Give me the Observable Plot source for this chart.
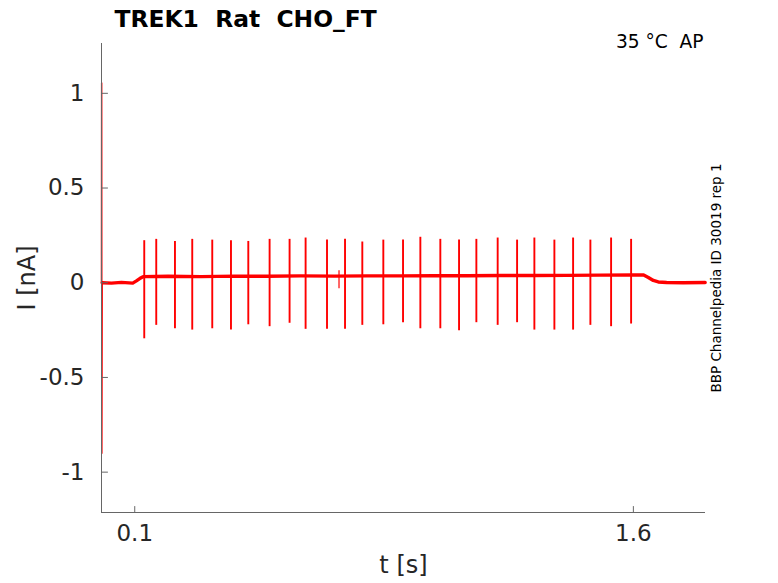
<!DOCTYPE html>
<html>
<head>
<meta charset="utf-8">
<script src="https://cdn.jsdelivr.net/npm/d3@7"></script>
<script src="https://cdn.jsdelivr.net/npm/@observablehq/plot@0.6"></script>
<style>
  html, body { margin: 0; padding: 0; background: #fff; }
  #chart { width: 778px; height: 583px; }
</style>
</head>
<body>
<div id="chart"></div>
<script>
// ---- Data ----
const titleText = "TREK1\u00a0 Rat\u00a0 CHO_FT";
const conditionText = "35 °C\u00a0 AP";
const sourceText = "BBP Channelpedia ID 30019 rep 1";
const xLabel = "t [s]";
const yLabel = "I [nA]";

const xTicks = [0.1, 1.6];
const yTicks = [-1, -0.5, 0, 0.5, 1];
const xDomain = [0, 1.817];
const yDomain = [-1.213, 1.263];

// initial capacitive transient (time in s, current in nA)
const transT = [0, 0.0005, 0.001, 0.002];
const transI = [0, 1.055, -0.9, 0];

// baseline current trace (time in s, current in nA)
const baseT = [0.002, 0.03, 0.06, 0.094, 0.105, 0.115, 0.125,
  0.2, 0.3, 0.4, 0.5, 0.6, 0.7, 0.8, 0.9, 1.0, 1.1, 1.2, 1.3, 1.4, 1.5, 1.6,
  1.631, 1.645, 1.66, 1.675, 1.7, 1.75, 1.816];
const baseI = [0, -0.002, 0.002, -0.002, 0.01, 0.022, 0.032,
  0.034, 0.032, 0.035, 0.034, 0.036, 0.035, 0.036, 0.036, 0.037, 0.037, 0.038, 0.038, 0.039, 0.040, 0.041,
  0.041, 0.028, 0.012, 0.004, 0.001, 0, 0.001];

// action-current spikes
const spikeT = [0.1286, 0.1647, 0.2210, 0.2730, 0.3332, 0.3895, 0.4416, 0.5057, 0.5658,
  0.6140, 0.6784, 0.7326, 0.7846, 0.8478, 0.9071, 0.9592, 1.0193, 1.0756, 1.1277,
  1.1918, 1.2502, 1.3022, 1.3624, 1.4187, 1.4707, 1.5330, 1.5932];
const spikePeak = [0.222, 0.229, 0.218, 0.229, 0.225, 0.222, 0.218, 0.229, 0.229,
  0.236, 0.225, 0.229, 0.215, 0.225, 0.225, 0.240, 0.229, 0.225, 0.229,
  0.236, 0.225, 0.236, 0.225, 0.236, 0.225, 0.236, 0.229];
const spikeTrough = [-0.296, -0.225, -0.243, -0.250, -0.243, -0.250, -0.222, -0.232, -0.214,
  -0.246, -0.246, -0.246, -0.225, -0.222, -0.211, -0.243, -0.243, -0.253, -0.211,
  -0.225, -0.211, -0.250, -0.250, -0.250, -0.225, -0.232, -0.218];

// small artefact
const glitchT = [0.7145];
const glitchHi = [0.063];
const glitchLo = [-0.032];

// ---- Build tables ----
const trans = transT.map((t, i) => ({t, I: transI[i]}));
const base = baseT.map((t, i) => ({t, I: baseI[i]}));
const spikes = spikeT.map((t, i) => ({t, hi: spikePeak[i], lo: spikeTrough[i]}));
const glitches = glitchT.map((t, i) => ({t, hi: glitchHi[i], lo: glitchLo[i]}));

const red = "#ff0000";
const axisColor = "#666666";
const textColor = "#262626";
const tickShape = { draw(context, l) { context.moveTo(0, 0); context.lineTo(0, -l); } };

const chart = Plot.plot({
  width: 778,
  height: 583,
  marginLeft: 101,
  marginRight: 73,
  marginTop: 43,
  marginBottom: 71,
  style: { fontFamily: "DejaVu Sans", background: "#fff", overflow: "visible" },
  x: { domain: xDomain },
  y: { domain: yDomain },
  marks: [
    // trace
    Plot.line(trans, { x: "t", y: "I", stroke: red, strokeWidth: 1.5 }),
    Plot.line(base, { x: "t", y: "I", stroke: red, strokeWidth: 3.4, strokeLinejoin: "round" }),
    Plot.ruleX(spikes, { x: "t", y1: "lo", y2: "hi", stroke: red, strokeWidth: 1.9 }),
    Plot.ruleX(glitches, { x: "t", y1: "lo", y2: "hi", stroke: red, strokeWidth: 1.2 }),
    // axis lines
    Plot.ruleX([xDomain[0]], { stroke: axisColor, strokeWidth: 1 }),
    Plot.ruleY([yDomain[0]], { stroke: axisColor, strokeWidth: 1 }),
    // inward ticks
    Plot.vector(xTicks, { x: d => d, y: yDomain[0], length: 6, rotate: 0, anchor: "start", shape: tickShape, stroke: axisColor, strokeWidth: 1 }),
    Plot.vector(yTicks, { y: d => d, x: xDomain[0], length: 6, rotate: 90, anchor: "start", shape: tickShape, stroke: axisColor, strokeWidth: 1 }),
    // tick labels
    Plot.axisX({ ticks: xTicks, tickSize: 0, tickPadding: 12, fontSize: 23, fill: textColor, tickFormat: d => String(d), label: null }),
    Plot.axisY({ ticks: yTicks, tickSize: 0, tickPadding: 17, fontSize: 23, fill: textColor, tickFormat: d => String(d), label: null }),
    // axis titles
    Plot.text([xLabel], { text: d => d, frameAnchor: "bottom", dy: 53, textAnchor: "middle", lineAnchor: "middle", fontSize: 24, fill: textColor }),
    Plot.text([yLabel], { text: d => d, frameAnchor: "left", dx: -74, rotate: -90, textAnchor: "middle", lineAnchor: "middle", fontSize: 24, fill: textColor }),
    // title & annotations
    Plot.text([titleText], { text: d => d, frameAnchor: "top-left", dx: 13, dy: -17, textAnchor: "start", lineAnchor: "bottom", fontSize: 23.4, fontWeight: "bold", fill: "#000" }),
    Plot.text([conditionText], { text: d => d, frameAnchor: "top-right", dx: -2, dy: 4, textAnchor: "end", lineAnchor: "bottom", fontSize: 18.6, fill: "#000" }),
    Plot.text([sourceText], { text: d => d, frameAnchor: "right", dx: 11.5, rotate: -90, textAnchor: "middle", lineAnchor: "middle", fontSize: 13.5, fill: "#000" })
  ]
});
document.getElementById("chart").appendChild(chart);
</script>
</body>
</html>
